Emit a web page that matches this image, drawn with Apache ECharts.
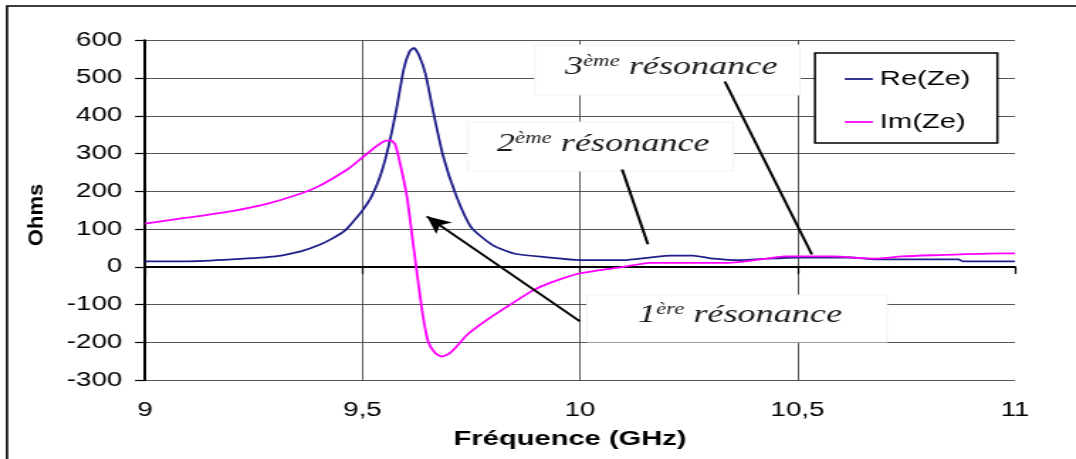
<!DOCTYPE html>
<html>
<head>
<meta charset="utf-8">
<title>Ze - résonances</title>
<script src="https://cdn.jsdelivr.net/npm/echarts@6/dist/echarts.min.js"></script>
<style>
  html, body { margin: 0; padding: 0; background: #fff; overflow: hidden; }
  #wrap { width: 1076px; height: 459px; overflow: hidden; }
  /* the source picture is stretched sideways, so draw narrow and stretch it */
  #chart { width: 758px; height: 459px; transform: scaleX(1.4195); transform-origin: 0 0; }
</style>
</head>
<body>
<div id="wrap"><div id="chart"></div></div>
<script>
const SX = 1076 / 758;

// Re(Ze), Ohms
const freqRe = [9.00, 9.10, 9.20, 9.30, 9.36, 9.40, 9.43, 9.46, 9.48, 9.50, 9.52, 9.54, 9.56, 9.58, 9.595, 9.608,
  9.618, 9.63, 9.645, 9.66, 9.685, 9.715, 9.75, 9.80, 9.85, 9.92, 10.00, 10.10, 10.16, 10.21, 10.26, 10.30,
  10.37, 10.43, 10.50, 10.62, 10.68, 10.87, 10.88, 11.00];
const reZe = [15, 15, 20, 28, 42, 58, 75, 97, 122, 150, 185, 238, 320, 430, 525, 570,
  580, 560, 510, 425, 295, 190, 105, 57, 35, 26, 18, 18, 25, 30, 30, 23,
  18, 22, 25, 25, 20, 20, 15, 15];

// Im(Ze), Ohms
const freqIm = [9.00, 9.10, 9.20, 9.28, 9.36, 9.40, 9.44, 9.47, 9.50, 9.53, 9.55, 9.565, 9.575, 9.586, 9.602,
  9.616, 9.628, 9.639, 9.651, 9.667, 9.683, 9.70, 9.72, 9.74, 9.786, 9.846, 9.892, 9.931, 10.00, 10.10, 10.16,
  10.34, 10.43, 10.47, 10.58, 10.68, 10.74, 10.81, 10.97, 11.00];
const imZe = [115, 131, 148, 167, 195, 214, 240, 262, 290, 318, 333, 335, 324, 276, 187,
  65, -41, -130, -198, -228, -237, -229, -206, -180, -140, -95, -62, -42, -17, 0, 11,
  11, 22, 28, 28, 22, 28, 31, 36, 36];

const xTicks = [9, 9.5, 10, 10.5, 11];
const xTickLabels = ['9', '9,5', '10', '10,5', '11'];

// annotation lines [from, to] in GHz / Ohms
const arrowLines = [
  [[10.0, -144], [9.648, 134]],
  [[10.097, 258], [10.156, 60]],
  [[10.333, 491], [10.533, 33]]
];

const px = (x) => x / SX;   // picture pixel -> chart pixel

const chart = echarts.init(document.getElementById('chart'));

const sans = 'Liberation Sans';
const serifFont = (size) => 'italic ' + size + 'px "Liberation Serif"';

function note(x, top, num, sup) {
  return {
    type: 'text', x: px(x), y: top, z: 10,
    style: {
      text: '{n|' + num + '}{s|' + sup + '}{n| résonance}',
      align: 'left', verticalAlign: 'top',
      rich: {
        n: { font: serifFont(25.5), fontFamily: 'Liberation Serif', fontStyle: 'italic', fontSize: 25.5,
          lineHeight: 26, fill: '#1c1c1c' },
        s: { font: serifFont(16), fontFamily: 'Liberation Serif', fontStyle: 'italic', fontSize: 16,
          lineHeight: 15, verticalAlign: 'top', fill: '#1c1c1c' }
      }
    }
  };
}

function box(x1, y1, x2, y2) {
  return {
    type: 'rect', z: 1,
    shape: { x: px(x1), y: y1, width: px(x2 - x1), height: y2 - y1 },
    style: { fill: '#fff', stroke: '#f2f2f2', lineWidth: 1 }
  };
}

chart.setOption({
  animation: false,
  backgroundColor: '#fff',
  grid: { left: px(145), right: 758 - px(1015), top: 40.3, bottom: 78.7, containLabel: false, outerBoundsMode: 'none' },
  legend: {
    orient: 'vertical', left: px(815), top: 53,
    data: ['Re(Ze)', 'Im(Ze)'],
    icon: 'rect',
    itemWidth: px(28), itemHeight: 1.8, itemGap: 21,
    padding: [15, 19, 10, 21],
    backgroundColor: '#fff', borderColor: '#000', borderWidth: 1.5, borderRadius: 0,
    textStyle: { fontFamily: sans, fontSize: 20.5, color: '#000', lineHeight: 22 },
    selectedMode: false
  },
  xAxis: [
    {
      type: 'value', min: 9, max: 11, interval: 0.5,
      axisLine: { onZero: true, lineStyle: { color: '#000', width: 1.8 } },
      axisTick: { show: true, inside: false, length: 7, lineStyle: { color: '#000', width: 1.2 } },
      axisLabel: { show: false },
      splitLine: { show: true, showMinLine: false, showMaxLine: false, lineStyle: { color: '#444', width: 0.9 } }
    },
    {
      type: 'value', min: 9, max: 11, interval: 0.5, position: 'bottom',
      axisLine: { show: false, onZero: false },
      axisTick: { show: false },
      splitLine: { show: false },
      axisLabel: {
        margin: 20, fontFamily: sans, fontSize: 19.5, color: '#000',
        formatter: (v) => {
          const i = xTicks.findIndex((t) => Math.abs(t - v) < 1e-6);
          return i < 0 ? '' : xTickLabels[i];
        }
      },
      name: 'Fréquence (GHz)', nameLocation: 'middle', nameGap: 48.5, nameMoveOverlap: false,
      nameTextStyle: { fontFamily: sans, fontWeight: 'bold', fontSize: 20.5, color: '#000', lineHeight: 21, padding: [0, 14, 0, 0] }
    }
  ],
  yAxis: {
    type: 'value', min: -300, max: 600, interval: 100,
    axisLine: { show: true, lineStyle: { color: '#000', width: 2 } },
    axisTick: { show: true, inside: false, length: 7, lineStyle: { color: '#000', width: 1.2 } },
    axisLabel: { margin: 16, fontFamily: sans, fontSize: 19.5, color: '#000' },
    splitLine: { show: true, lineStyle: { color: '#555', width: 1.1 } }
  },
  graphic: [
    { type: 'rect', z: 0, shape: { x: px(7), y: 6, width: 800, height: 500 },
      style: { fill: 'none', stroke: '#000', lineWidth: 1.6 } },
    { type: 'text', x: px(37), y: 215, rotation: Math.PI / 2, scaleY: 0.7, z: 10,
      style: { text: 'Ohms', fontFamily: sans, fontWeight: 'bold', fontSize: 22, fill: '#000',
        align: 'center', verticalAlign: 'middle' } },
    box(535, 45, 800, 95),
    box(468, 122, 733, 171),
    box(587, 295, 887, 342),
    note(565, 54, '3', 'ème'),
    note(497, 131, '2', 'ème'),
    note(638, 302, '1', 'ère')
  ],
  series: [
    {
      name: 'Re(Ze)', type: 'line', xAxisIndex: 0,
      data: freqRe.map((f, i) => [f, reZe[i]]),
      symbol: 'none', smooth: 0.2,
      lineStyle: { color: '#1f1f8a', width: 1.8 }, itemStyle: { color: '#1f1f8a' },
      markLine: {
        silent: true, symbol: ['none', 'none'],
        label: { show: false }, emphasis: { disabled: true },
        lineStyle: { color: '#000', width: 2, type: 'solid' },
        data: arrowLines.map((l, i) => [
          { coord: l[0] },
          i === 0 ? { coord: l[1], symbol: 'arrow', symbolSize: [12, 17] } : { coord: l[1] }
        ])
      }
    },
    {
      name: 'Im(Ze)', type: 'line', xAxisIndex: 0,
      data: freqIm.map((f, i) => [f, imZe[i]]),
      symbol: 'none', smooth: 0.2,
      lineStyle: { color: '#ff00ff', width: 1.8 }, itemStyle: { color: '#ff00ff' }
    }
  ]
});
</script>
</body>
</html>
